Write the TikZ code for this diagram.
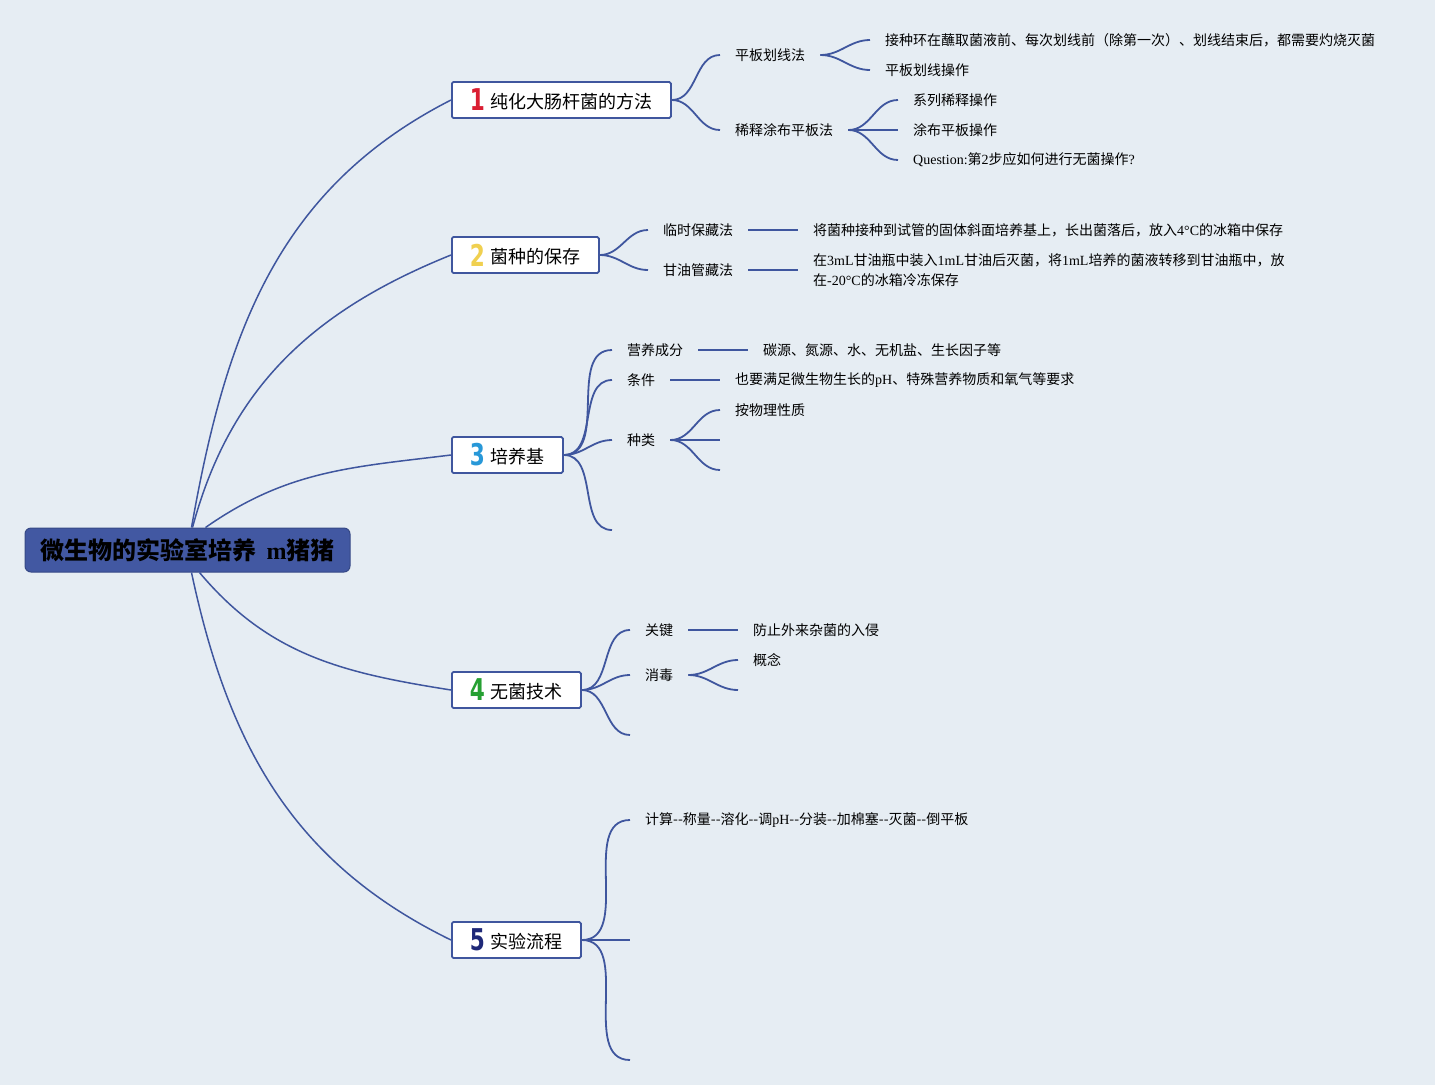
\documentclass[tikz,border=0pt]{standalone}
\usepackage{fontspec}
\setmainfont{Noto Sans CJK SC}
\newfontfamily\lat{Liberation Serif}
\newfontfamily\numfont{DejaVu Sans}
\usetikzlibrary{positioning}
\definecolor{bg}{RGB}{230,237,243}
\definecolor{ln}{RGB}{63,86,158}
\definecolor{rootfill}{RGB}{66,88,162}
\definecolor{n1}{RGB}{218,30,50}
\definecolor{n2}{RGB}{240,208,80}
\definecolor{n3}{RGB}{40,152,216}
\definecolor{n4}{RGB}{38,160,50}
\definecolor{n5}{RGB}{30,40,120}
\newcommand\numtag[2]{\raisebox{-2.5pt}{\scalebox{0.9}[1.25]{\textcolor{#1}{\numfont\bfseries\fontsize{24}{24}\selectfont#2}}}\hspace{6pt}}

\begin{document}
\begin{tikzpicture}[x=1pt,y=1pt,
  root/.style={draw=ln!85!black,fill=rootfill,rounded corners=6pt,line width=1pt,minimum width=325pt,minimum height=44pt,font=\bfseries\fontsize{24}{24}\selectfont},
  topic/.style={draw=ln,fill=white,line width=1.8pt,rounded corners=1.5pt,anchor=west,minimum height=36pt,inner xsep=18pt,font=\fontsize{18}{18}\selectfont},
  leaf/.style={anchor=west,inner xsep=15pt,inner ysep=2pt,font=\fontsize{14}{20}\selectfont},
  br/.style={ln,line width=1.5pt},
  tw/.style={ln,line width=1.8pt}]
\useasboundingbox(0,0)rectangle(1435,-1085);
\fill[bg](0,0)rectangle(1435,-1085);
\node[root](ctr)at(187.5,-550){微生物的实验室培养\hspace{10pt}{\lat m}猪猪};
\node[topic](m1)at(451,-100){\numtag{n1}{1}纯化大肠杆菌的方法};
\node[topic](m2)at(451,-255){\numtag{n2}{2}菌种的保存};
\node[topic](m3)at(451,-455){\numtag{n3}{3}培养基};
\node[topic](m4)at(451,-690){\numtag{n4}{4}无菌技术};
\node[topic](m5)at(451,-940){\numtag{n5}{5}实验流程};
\draw[br]([xshift=4pt]ctr.north)to[out=80,in=207](m1.west);
\draw[br]([xshift=5pt]ctr.north)to[out=75,in=202](m2.west);
\draw[br]([xshift=18pt]ctr.north)to[out=35,in=187](m3.west);
\draw[br]([xshift=12pt]ctr.south)to[out=-50,in=171](m4.west);
\draw[br]([xshift=4pt]ctr.south)to[out=-78,in=154](m5.west);
% 1
\node[leaf](a1)at(720,-55){平板划线法};
\node[leaf](a2)at(720,-130){稀释涂布平板法};
\node[leaf](a11)at(870,-40){接种环在蘸取菌液前、每次划线前（除第一次）、划线结束后，都需要灼烧灭菌};
\node[leaf](a12)at(870,-70){平板划线操作};
\node[leaf](a21)at(898,-100){系列稀释操作};
\node[leaf](a22)at(898,-130){涂布平板操作};
\node[leaf](a23)at(898,-160){{\lat Question:}第{\lat 2}步应如何进行无菌操作{\lat ?}};
\foreach \t in {a1,a2}\draw[tw](m1.east)to[out=0,in=180](\t.west);
\foreach \t in {a11,a12}\draw[tw](a1.east)to[out=0,in=180](\t.west);
\foreach \t in {a21,a22,a23}\draw[tw](a2.east)to[out=0,in=180](\t.west);
% 2
\node[leaf](b1)at(648,-230){临时保藏法};
\node[leaf](b2)at(648,-270){甘油管藏法};
\node[leaf](b11)at(798,-230){将菌种接种到试管的固体斜面培养基上，长出菌落后，放入{\lat 4°C}的冰箱中保存};
\node[leaf,align=left](b21)at(798,-270){在{\lat 3mL}甘油瓶中装入{\lat 1mL}甘油后灭菌，将{\lat 1mL}培养的菌液转移到甘油瓶中，放\\在{\lat -20°C}的冰箱冷冻保存};
\foreach \t in {b1,b2}\draw[tw](m2.east)to[out=0,in=180](\t.west);
\draw[tw](b1.east)--(b11.west);
\draw[tw](b2.east)--(b21.west);
% 3
\node[leaf](c1)at(612,-350){营养成分};
\node[leaf](c2)at(612,-380){条件};
\node[leaf](c3)at(612,-440){种类};
\coordinate(c4)at(612,-530);
\node[leaf](c11)at(748,-350){碳源、氮源、水、无机盐、生长因子等};
\node[leaf](c21)at(720,-380){也要满足微生物生长的{\lat pH}、特殊营养物质和氧气等要求};
\node[leaf](c31)at(720,-410){按物理性质};
\coordinate(c32)at(720,-440);
\coordinate(c33)at(720,-470);
\foreach \t in {c1,c2,c3}\draw[tw](m3.east)to[out=0,in=180](\t.west);
\draw[tw](m3.east)to[out=0,in=180](c4);
\draw[tw](c1.east)--(c11.west);
\draw[tw](c2.east)--(c21.west);
\draw[tw](c3.east)to[out=0,in=180](c31.west);
\foreach \t in {c32,c33}\draw[tw](c3.east)to[out=0,in=180](\t);
% 4
\node[leaf](d1)at(630,-630){关键};
\node[leaf](d2)at(630,-675){消毒};
\coordinate(d3)at(630,-735);
\node[leaf](d11)at(738,-630){防止外来杂菌的入侵};
\node[leaf](d21)at(738,-660){概念};
\coordinate(d22)at(738,-690);
\foreach \t in {d1,d2}\draw[tw](m4.east)to[out=0,in=180](\t.west);
\draw[tw](m4.east)to[out=0,in=180](d3);
\draw[tw](d1.east)--(d11.west);
\draw[tw](d2.east)to[out=0,in=180](d21.west);
\draw[tw](d2.east)to[out=0,in=180](d22);
% 5
\node[leaf](e1)at(630,-820){计算-{}-称量-{}-溶化-{}-调{\lat pH}-{}-分装-{}-加棉塞-{}-灭菌-{}-倒平板};
\coordinate(e2)at(630,-940);
\coordinate(e3)at(630,-1060);
\draw[tw](m5.east)to[out=0,in=180](e1.west);
\foreach \t in {e2,e3}\draw[tw](m5.east)to[out=0,in=180](\t);
\end{tikzpicture}
\end{document}
